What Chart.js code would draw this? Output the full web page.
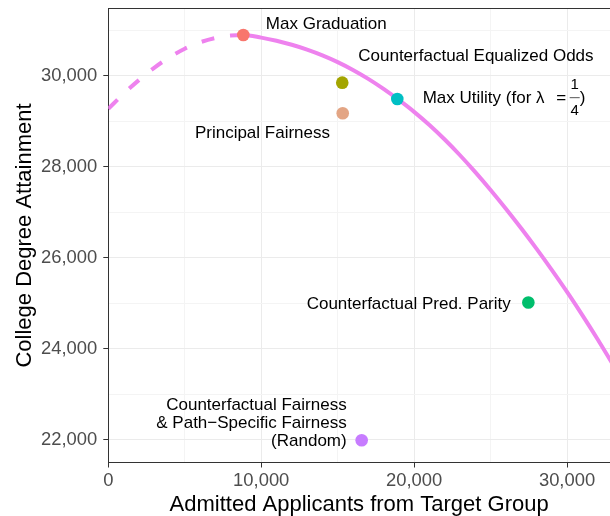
<!DOCTYPE html>
<html><head><meta charset="utf-8">
<script src="https://cdn.jsdelivr.net/npm/chart.js@4"></script>
<style>html,body{margin:0;padding:0;background:#fff}#wrap{width:610px;height:516px}</style>
</head><body><div id="wrap"><canvas id="c" width="610" height="516"></canvas></div>
<script>
// Frontier curve
const curveX = [0,1000,2000,3000,4000,5000,6000,7000,8000,8830,10000,11000,12000,13000,14000,15000,16000,17000,18000,19000,20000,21000,22000,23000,24000,25000,26000,27000,28000,29000,30000,31000,32000,33000];
const curveY = [29270,29600,29900,30170,30400,30590,30730,30825,30878,30891,30834,30764,30676,30570,30444,30296,30124,29928,29708,29465,29203,28913,28595,28250,27880,27488,27076,26646,26198,25732,25248,24738,24208,23658];
const peakX = 8830;

// Policies
const methods = ["Max Graduation","Counterfactual Equalized Odds","Principal Fairness","Max Utility","Counterfactual Pred. Parity","Random"];
const methodX = [8830,15300,15330,18900,27470,16570];
const methodY = [30891,29844,29172,29486,25015,21990];
const methodLabels = [
  ["Max Graduation"],
  ["Counterfactual Equalized Odds"],
  ["Principal Fairness"],
  ["Max Utility (for \u03bb"],
  ["Counterfactual Pred. Parity"],
  ["Counterfactual Fairness","& Path\u2212Specific Fairness","(Random)"]
];
const methodColors = ["#F8766D","#A3A500","#E3A584","#00BFC4","#00BE6C","#C77CFF"];

// Axes
const xTitle = "Admitted Applicants from Target Group";
const yTitle = "College Degree Attainment";
const xMin = 0, xMax = 32810, yMin = 21502, yMax = 31473;
const xTicks = [0,5000,10000,15000,20000,25000,30000];
const xMajor = [0,10000,20000,30000];
const yTicks = [22000,23000,24000,25000,26000,27000,28000,29000,30000,31000];
const yMajor = [22000,24000,26000,28000,30000];

const FONT = '"Liberation Sans", Arial, Helvetica, sans-serif';

const labelPlugin = {
  id: 'ptlabels',
  afterDatasetsDraw(chart, args, opts) {
    const ctx = chart.ctx, xs = chart.scales.x, ys = chart.scales.y;
    ctx.save();
    ctx.fillStyle = '#000';
    ctx.textBaseline = 'alphabetic';
    methodLabels.forEach((lines, i) => {
      const p = opts.place[i];
      const px = xs.getPixelForValue(methodX[i]), py = ys.getPixelForValue(methodY[i]);
      ctx.font = '17px ' + FONT;
      ctx.textAlign = p.align;
      const bx = px + p.dx, by = py + p.dy;
      lines.forEach((t, k) => ctx.fillText(t, bx, by + k * opts.lineGap));
      if (p.frac) {
        ctx.textAlign = 'center';
        ctx.fillText('=', bx + 138.5, by);
        ctx.font = '15px ' + FONT;
        ctx.fillText(p.frac[0], bx + 152, by - 13.9);
        ctx.fillText(p.frac[1], bx + 152, by + 12.1);
        ctx.strokeStyle = '#555';
        ctx.lineWidth = 1;
        ctx.beginPath();
        ctx.moveTo(bx + 147, by - 5.6);
        ctx.lineTo(bx + 157, by - 5.6);
        ctx.stroke();
        ctx.font = '17px ' + FONT;
        ctx.textAlign = 'left';
        ctx.fillText(')', bx + 157, by);
      }
    });
    ctx.restore();
  }
};

const topBorder = {
  id: 'topBorder',
  afterDraw(chart) {
    const {ctx, chartArea: a} = chart;
    ctx.save();
    ctx.strokeStyle = '#333';
    ctx.lineWidth = 1;
    ctx.beginPath();
    ctx.moveTo(a.left, a.top);
    ctx.lineTo(a.right, a.top);
    ctx.stroke();
    ctx.restore();
  }
};

const curveData = curveX.map((x, i) => ({x, y: curveY[i]}));
const pointData = methodX.map((x, i) => ({x, y: methodY[i]}));
const isMajor = (arr, c) => c.tick && arr.includes(c.tick.value);

new Chart(document.getElementById('c'), {
  type: 'scatter',
  data: {
    datasets: [
      {
        type: 'scatter',
        data: pointData,
        backgroundColor: methodColors,
        borderWidth: 0,
        pointRadius: 6.3,
        clip: false
      },
      {
        type: 'line',
        data: curveData,
        borderColor: '#EE82EE',
        borderWidth: 4,
        pointRadius: 0,
        fill: false,
        cubicInterpolationMode: 'monotone',
        borderCapStyle: 'butt',
        segment: {
          borderDash: c => (c.p1.parsed.x <= peakX ? [13, 16] : undefined)
        }
      }
    ]
  },
  options: {
    responsive: false,
    animation: false,
    devicePixelRatio: 1,
    layout: {autoPadding: false, padding: {top: 8.5, right: 0, left: 0, bottom: 0}},
    plugins: {
      legend: {display: false},
      tooltip: {enabled: false},
      ptlabels: {
        lineGap: 18.3,
        place: [
          {dx: 22.5, dy: -5.7, align: 'left'},
          {dx: 16, dy: -21.7, align: 'left'},
          {dx: -12.7, dy: 24.4, align: 'right'},
          {dx: 25.4, dy: 4.3, align: 'left', frac: ['1', '4']},
          {dx: -17.6, dy: 6.6, align: 'right'},
          {dx: -15, dy: -30.7, align: 'right'}
        ]
      }
    },
    scales: {
      x: {
        type: 'linear', min: xMin, max: xMax,
        afterBuildTicks: s => { s.ticks = xTicks.map(v => ({value: v})); },
        afterFit: s => { s.height = 53.5; s.paddingLeft = 0; s.paddingRight = 0; },
        ticks: {
          autoSkip: false, maxRotation: 0,
          padding: 2, color: '#4D4D4D', font: {family: FONT, size: 18.4},
          callback: v => (xMajor.includes(v) ? v.toLocaleString('en-US') : '')
        },
        grid: {
          color: c => (isMajor(xMajor, c) ? '#EBEBEB' : '#F4F4F4'),
          lineWidth: 1, tickLength: 5,
          tickColor: c => (isMajor(xMajor, c) ? '#333' : 'rgba(0,0,0,0)')
        },
        border: {color: '#333', width: 1},
        title: {display: true, text: xTitle, color: '#000', font: {family: FONT, size: 22, lineHeight: 1}, padding: {top: 0, bottom: 0}}
      },
      y: {
        type: 'linear', min: yMin, max: yMax,
        afterBuildTicks: s => { s.ticks = yTicks.map(v => ({value: v})); },
        afterFit: s => { s.width = 108.3; s.paddingTop = 0; s.paddingBottom = 0; },
        ticks: {
          autoSkip: false,
          padding: 6, color: '#4D4D4D', font: {family: FONT, size: 18.4},
          callback: v => (yMajor.includes(v) ? v.toLocaleString('en-US') : '')
        },
        grid: {
          color: c => (isMajor(yMajor, c) ? '#EBEBEB' : '#F4F4F4'),
          lineWidth: 1, tickLength: 5,
          tickColor: c => (isMajor(yMajor, c) ? '#333' : 'rgba(0,0,0,0)')
        },
        border: {color: '#333', width: 1},
        title: {display: true, text: yTitle, color: '#000', font: {family: FONT, size: 22, lineHeight: 1}, padding: {top: 14, bottom: 0}}
      }
    }
  },
  plugins: [labelPlugin, topBorder]
});
</script>
</body></html>
